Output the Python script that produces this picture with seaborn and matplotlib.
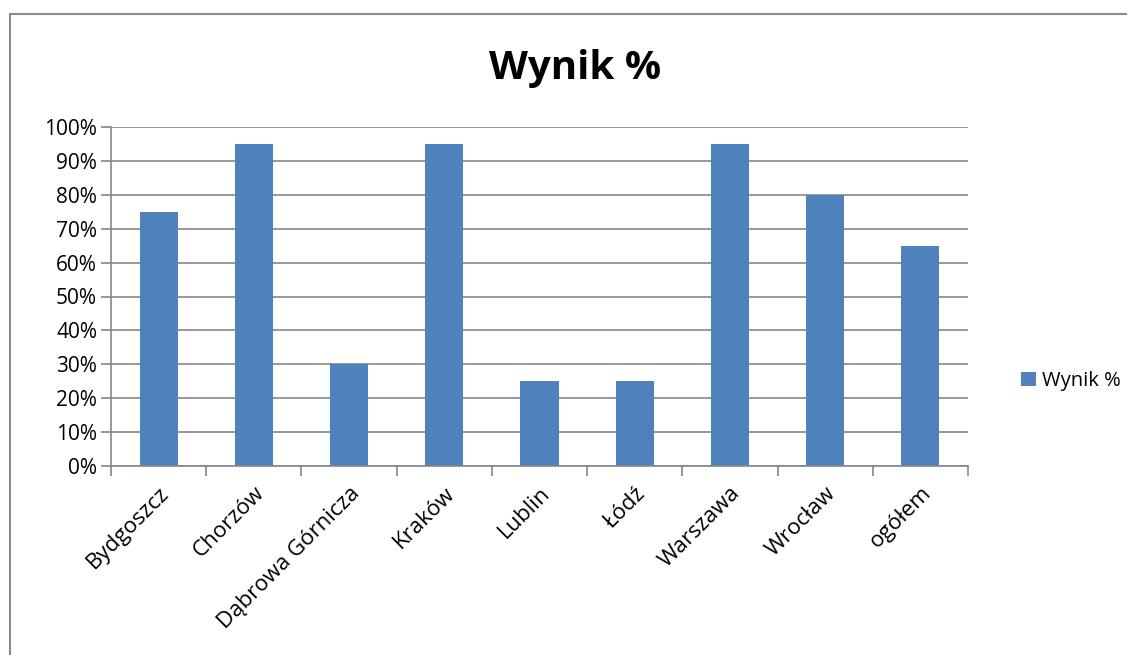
import matplotlib
matplotlib.use("Agg")
import matplotlib.pyplot as plt
import seaborn as sns
import pandas as pd
import numpy as np
from matplotlib.patches import Rectangle
from matplotlib.ticker import FixedLocator, PercentFormatter

categories = ["Bydgoszcz", "Chorzów", "Dąbrowa Górnicza", "Kraków", "Lublin",
              "Łódź", "Warszawa", "Wrocław", "ogółem"]
values = [75, 95, 30, 95, 25, 25, 95, 80, 65]
series_name = "Wynik %"
y_ticks = [0, 10, 20, 30, 40, 50, 60, 70, 80, 90, 100]

sns.set_theme(style="white")
plt.rcParams['font.family'] = ['Open Sans', 'DejaVu Sans']

df = pd.DataFrame({"cat": categories, "val": values, "series": series_name})

fig = plt.figure(figsize=(11.27, 6.55), dpi=100)
W, H = 1127, 655
ax = fig.add_axes([111 / W, 1 - 466 / H, (968 - 111) / W, (466 - 127) / H])

sns.barplot(data=df, x="cat", y="val", hue="series", palette=["#4F81BD"],
            width=0.4, ax=ax, saturation=1, legend=True, linewidth=0,
            edgecolor="none")

ax.set_ylim(0, 100)
ax.set_xlim(-0.5, len(categories) - 0.5)
ax.set_yticks(y_ticks)
ax.yaxis.set_major_formatter(PercentFormatter(decimals=0))
ax.grid(axis="y", color="#868686", linewidth=1.2)
ax.set_axisbelow(True)
ax.set_xlabel("")
ax.set_ylabel("")

for s in ["top", "right"]:
    ax.spines[s].set_visible(False)
for s in ["left", "bottom"]:
    ax.spines[s].set_color("#868686")
    ax.spines[s].set_linewidth(1.2)

ax.tick_params(axis="y", which="major", length=7, width=1.2, color="#868686",
               labelsize=15, left=True, pad=3, labelcolor="black")
ax.tick_params(axis="x", which="major", length=0, labelsize=16, pad=12,
               labelcolor="black")
ax.xaxis.set_minor_locator(FixedLocator(np.arange(-0.5, len(categories), 1.0)))
ax.tick_params(axis="x", which="minor", length=7, width=1.2, color="#868686",
               bottom=True)
plt.setp(ax.get_xticklabels(), rotation=45, ha="right", rotation_mode="anchor")

leg = ax.legend(loc="center left", bbox_to_anchor=(1011 / W, 1 - 381 / H),
                bbox_transform=fig.transFigure, frameon=False, fontsize=14.5,
                handlelength=0.75, handleheight=0.75, handletextpad=0.3,
                borderpad=0)
for t in leg.get_texts():
    t.set_color("black")

fig.text(575 / W, 1 - 68 / H, "Wynik %", ha="center",
         va="center", fontsize=29, fontweight="bold", color="black")

fig.patches.append(Rectangle((10 / W, -0.1), 1.2, 1 - 14 / H + 0.1,
                             transform=fig.transFigure, fill=False,
                             edgecolor="#8c8c8c", linewidth=1.5))

fig.savefig("out.png", dpi=100)
